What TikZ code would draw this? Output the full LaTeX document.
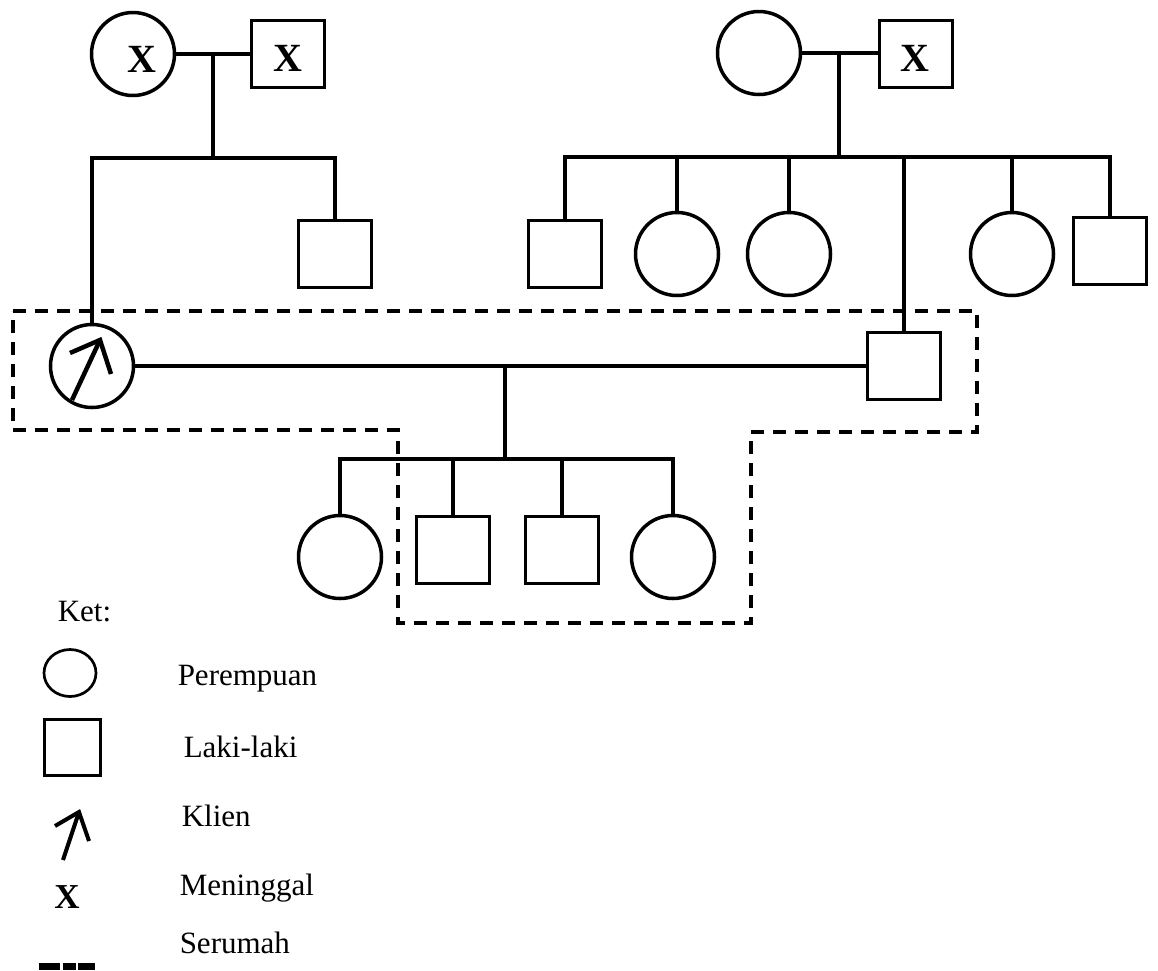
\documentclass[tikz,border=0pt]{standalone}
\usepackage{fontspec}
\setmainfont{Liberation Serif}
\usetikzlibrary{calc,shapes.geometric}
\begin{document}
\begin{tikzpicture}[x=1pt,y=-1pt,
  line width=3.5pt,
  fem/.style={circle, draw, line width=3.5pt, minimum size=83pt, inner sep=0pt},
  mal/.style={rectangle, draw, line width=3.5pt, minimum width=73pt, minimum height=67pt, inner sep=0pt},
  dead/.style={inner sep=0pt, font=\fontsize{40}{40}\selectfont\bfseries},
  house/.style={dash pattern=on 13pt off 9pt, line width=3.5pt},
  lbl/.style={anchor=base west, inner sep=0pt, font=\fontsize{31}{37}\selectfont},
  kliensym/.style={line width=4.5pt, line join=miter},
]
\useasboundingbox (0,0) rectangle (1158,970);

% ---- left grandparents
\node[fem] (gm1) at (133,54) {};
\node[dead] (gm1x) at (142,59) {X};
\node[mal] (gf1) at (288,54) {};
\node[dead] (gf1x) at (288,58) {X};
\draw (gm1.east) -- (gf1.west);
\coordinate (m1) at (213,54);
\coordinate (s1) at (213,158);
\draw (m1) -- (s1);

% ---- right grandparents
\node[fem] (gm2) at (759,53) {};
\node[mal] (gf2) at (916,54) {};
\node[dead] (gf2x) at (915,58) {X};
\draw (gm2.east) -- (gm2.east -| gf2.west);
\coordinate (m2) at (839,54);
\coordinate (s2) at (839,157);
\draw (m2) -- (s2);

% ---- client generation
\node[fem] (client) at (92,366) {};
\node[mal] (u1) at (335,254) {};
\node[mal] (a1) at (565,254) {};
\node[fem] (a2) at (677,254) {};
\node[fem] (a3) at (789,254) {};
\node[fem] (a4) at (1012,254) {};
\node[mal] (a5) at (1110,251) {};
\node[mal] (hus) at (904,366) {};

\draw (client.north) -- (client.north |- s1) -- (u1.north |- s1) -- (u1.north);
\draw (a1.north) -- (a1.north |- s2) -- (a5.north |- s2) -- (a5.north);
\draw (a2.north) -- (a2.north |- s2);
\draw (a3.north) -- (a3.north |- s2);
\draw (a4.north) -- (a4.north |- s2);
\draw (hus.north) -- (hus.north |- s2);

% client arrow
\draw[kliensym] ($(client.center)+(-20,34)$) -- ($(client.center)+(8,-26)$);
\draw[kliensym] ($(client.center)+(-22,-13)$) -- ($(client.center)+(8,-26)$) -- ($(client.center)+(19,8)$);

% marriage of client
\draw (client.east) -- (hus.west);
\coordinate (m3) at (505,366);
\coordinate (s3) at (505,459);
\draw (m3) -- (s3);

% ---- children
\node[fem] (c1) at (340,557) {};
\node[mal] (c2) at (453,550) {};
\node[mal] (c3) at (562,550) {};
\node[fem] (c4) at (673,557) {};
\draw (c1.north) -- (c1.north |- s3) -- (c4.north |- s3) -- (c4.north);
\draw (c2.north) -- (c2.north |- s3);
\draw (c3.north) -- (c3.north |- s3);

% ---- household boundary
\draw[house] (13,311) -- (977,311) -- (977,432) -- (751,432) -- (751,623)
  -- (398,623) -- (398,430) -- (13,430) -- cycle;

% ---- legend
\node[lbl] (ket) at (56,621) {Ket:};
\node[ellipse, draw, line width=2.7pt, minimum width=52pt, minimum height=47pt, inner sep=0pt] (lgf) at (70,673) {};
\node[lbl] (lgft) at (176,685) {Perempuan};
\node[rectangle, draw, line width=2.7pt, minimum size=56pt, inner sep=0pt] (lgm) at (72.5,747.5) {};
\node[lbl] (lgmt) at (182,757) {Laki-laki};
\draw[line width=4pt] (63,860) -- (79,812);
\draw[line width=4pt, line join=miter] (55,826) -- (79,812) -- (89,841);
\node[lbl] (lgkt) at (180,826) {Klien};
\node[inner sep=0pt, font=\fontsize{35}{35}\selectfont\bfseries] (lgx) at (67,897) {X};
\node[lbl] (lgxt) at (178,895) {Meninggal};
\fill (39,963) rectangle (60,970);
\fill (63,963) rectangle (76,970);
\fill (78,963) rectangle (95,970);
\node[lbl] (lgst) at (178,953) {Serumah};
\end{tikzpicture}
\end{document}
